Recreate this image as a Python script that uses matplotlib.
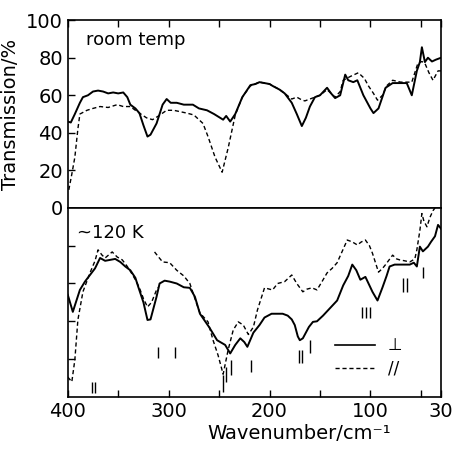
import numpy as np
import matplotlib
matplotlib.use("Agg")
import matplotlib.pyplot as plt
from matplotlib.lines import Line2D

# room temperature, perpendicular (solid)
rt_perp_w = [400, 397, 393, 388, 385, 380, 375, 370, 365, 360, 355, 350, 345, 341, 338, 333,
             329, 325, 321, 318, 312, 306, 302, 298, 292, 285, 276, 270, 262, 255, 249, 246,
             243, 239, 234, 227, 219, 214, 210, 205, 200, 197, 190, 185, 178, 173, 168, 164,
             160, 155, 150, 143, 139, 135, 130, 125, 122, 117, 113, 107, 100, 97, 92, 85, 78,
             70, 64, 59, 54, 51, 49, 46, 43, 39, 35, 30]
rt_perp_t = [46, 45.5, 50, 56, 59, 60, 62, 62.5, 62, 61, 61.5, 61, 61.5, 59, 55, 53,
             50.5, 44, 38, 39, 45, 55, 58, 56, 56, 55, 55, 53, 52, 50, 48, 47,
             49, 46, 50, 59, 65.4, 66, 67, 66.5, 66, 65, 63, 61, 56, 50, 43.6, 48,
             54, 59, 60, 64, 61, 58.5, 60, 71, 68, 67, 68, 60, 53, 50.5, 53, 64, 66.5,
             66.5, 66.5, 60, 73, 77.7, 85.6, 77.7, 80, 78, 79, 80]

# room temperature, parallel (dashed)
rt_par_w = [399, 396, 393, 390, 388, 381, 375, 368, 360, 351, 345, 338, 333, 329, 322, 316,
            310, 302, 295, 282, 275, 266, 261, 254, 247, 241, 234, 227, 219, 210, 200, 190,
            185, 178, 173, 168, 165, 160, 155, 150, 143, 139, 135, 130, 127, 120, 112, 106,
            102, 97, 93, 88, 84, 78, 70, 64, 59, 53, 49, 46, 42, 38, 35, 33, 30]
rt_par_t = [9.6, 18, 27, 42, 50, 52, 53, 54, 53.5, 55, 54, 54, 52, 50.5, 48, 47,
            49, 52, 52, 50.5, 49.5, 45, 38, 27, 19, 32, 49.5, 59, 65, 67, 66, 63,
            61, 58, 59, 57.5, 57, 58, 59, 60, 63, 61, 59, 62, 68, 70, 72, 69,
            65, 61, 57.4, 60, 65, 68, 67, 67, 67, 77, 78, 77, 72, 68, 71, 73, 73]

# ~120 K, perpendicular (solid)
lt_perp_w = [400, 395, 392, 388, 383, 378, 373, 368, 363, 358, 353, 348, 343, 338, 333, 330,
             325, 321, 318, 316, 312, 309, 304, 299, 292, 285, 279, 274, 269, 260, 252, 244,
             239, 234, 229, 225, 222, 216, 210, 205, 198, 192, 187, 182, 178, 175, 172, 170,
             167, 165, 161, 157, 153, 147, 140, 133, 127, 122, 118, 114, 110, 105, 101, 98,
             93, 88, 84, 81, 76, 71, 66, 61, 57, 54, 51, 48, 46, 43, 40, 36, 33, 30]
lt_perp_t = [54, 45, 50, 56.6, 61, 64.5, 68, 73.5, 72, 72.5, 73, 71.4, 69, 67, 63, 58,
             50, 40.7, 41, 45, 53, 60, 61.5, 61, 60, 58, 57.7, 53, 44, 37, 30, 27.5,
             23, 27.5, 31, 29, 26.5, 34, 38, 42, 44, 44, 44, 43, 41, 38, 32, 30,
             31, 33, 37, 39.7, 40, 43, 47, 51, 59, 64, 70, 67, 62, 63.5, 59, 55.6,
             51, 58, 64, 69, 70, 70, 70, 70, 71, 69, 79.5, 77, 78, 79.5, 82, 85, 91, 89]

# ~120 K, parallel (dashed); recorder offset jump near 312 cm-1
lt_par_w = [400, 396, 393, 390, 385, 378, 373, 370, 366, 363, 356, 351, 346, 341, 337, 333,
            329, 325, 321, 317, 312, 310, np.nan,
            314, 310, 306, 299, 292, 285, 279, 274, 269, 261, 256, 251, 246, 241, 236, 231,
            226, 221, 216, 212, 205, 200, 197, 192, 185, 178, 173, 167, 163, 158, 153, 148,
            143, 138, 133, 128, 123, 118, 113, 109, 105, 101, 98, 92, 88, 85, 78, 74, 71,
            66, 61, 56, 54, 51, 49, 47, 44, 41, 38, 36]
lt_par_t = [10.5, 8, 19.6, 40.7, 55.6, 65.6, 72, 77.8, 75, 73.5, 76.7, 74, 72.5, 69, 65.6, 62,
            57.7, 52, 47.6, 50, 56.6, 58, np.nan,
            76.7, 74, 71.4, 71, 67, 64, 60, 52, 44.4, 39.7, 30, 22, 12, 25, 35.4, 39.7,
            38, 33, 37, 46, 57.7, 57, 56.6, 60, 61, 64.5, 60, 55.6, 57, 57.7, 56.6, 61,
            65.6, 68, 71, 77, 83, 82, 80.4, 82, 83, 80, 76, 66, 68, 70, 75, 73, 72.5,
            72, 71.4, 73, 77.8, 88, 97, 93, 90, 95, 98.5, 100]

# band position markers (wavenumber, bottom, top)
band_w = [376.0, 372.8, 310.7, 293.9, 246.2, 243.3, 238.3, 218.5, 171.0, 167.6, 160.0,
          108.3, 104.8, 100.4, 68.2, 64.0, 47.8]
band_lo = [2, 2, 20.6, 20.6, 2.6, 8, 11.6, 13, 18, 18, 23.3, 41.8, 41.8, 41.8, 55.6, 55.6, 63]
band_hi = [8, 8, 26.5, 26.5, 11.6, 16, 19.6, 19.6, 24.9, 24.9, 30, 47.6, 47.6, 47.6, 63, 63, 68.8]

plt.rcParams['font.family'] = ['DejaVu Sans']
fig = plt.figure(figsize=(4.58, 4.49), dpi=100)
ax1 = fig.add_axes([0.148, 0.537, 0.815, 0.418])
ax2 = fig.add_axes([0.148, 0.116, 0.815, 0.421])

dash = (0, (3, 2))
ax1.plot(rt_perp_w, rt_perp_t, color='black', lw=1.4)
ax1.plot(rt_par_w, rt_par_t, color='black', lw=1.0, linestyle=dash)
ax2.plot(lt_perp_w, lt_perp_t, color='black', lw=1.4)
ax2.plot(lt_par_w, lt_par_t, color='black', lw=1.0, linestyle=dash)
ax2.vlines(band_w, band_lo, band_hi, color='black', lw=1.0)

for ax in (ax1, ax2):
    ax.set_xlim(400, 30)
    ax.set_ylim(0, 100)
    for s in ax.spines.values():
        s.set_linewidth(1.2)
    ax.tick_params(direction='in', length=5, width=1, labelsize=14)
    ax.set_xticks([400, 300, 200, 100, 30])
    ax.set_xticks([350, 250, 150, 50], minor=True)
    ax.tick_params(which='minor', direction='in', length=5, width=1)

ax1.set_yticks([0, 20, 40, 60, 80, 100])
ax1.tick_params(axis='x', which='both', bottom=False, top=True, labelbottom=False)
ax1.set_ylabel('Transmission/%', fontsize=14, labelpad=4)
ax1.text(0.05, 0.87, 'room temp', transform=ax1.transAxes, fontsize=13)

ax2.set_yticks([20, 40, 60, 80])
ax2.set_yticklabels([])
ax2.tick_params(axis='x', which='both', bottom=True, top=False, pad=4)
ax2.set_xlabel('Wavenumber/cm⁻¹', fontsize=14)
ax2.xaxis.set_label_coords(0.62, -0.145)
ax2.text(0.025, 0.84, '~120 K', transform=ax2.transAxes, fontsize=13)

handles = [Line2D([], [], color='black', lw=1.2),
           Line2D([], [], color='black', lw=1.0, linestyle=dash)]
ax2.legend(handles, ['⊥', '//'], loc='upper left', bbox_to_anchor=(0.715, 0.32),
           frameon=False, handlelength=2.4, fontsize=12, borderpad=0,
           borderaxespad=0, handletextpad=0.8, labelspacing=0.3)

fig.savefig('out.png', dpi=100)
